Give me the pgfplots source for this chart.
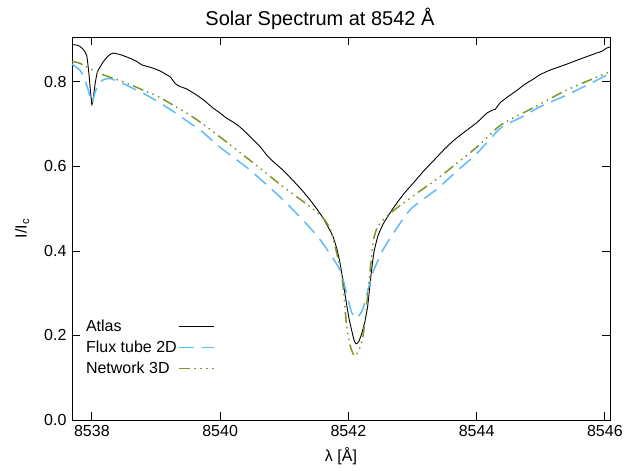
\documentclass[border=0pt]{standalone}
\usepackage{fontspec}
\setmainfont{Liberation Sans}
\usepackage{pgfplots}
\pgfplotsset{compat=1.18}
\definecolor{fluxblue}{RGB}{95,187,255}
\definecolor{netgreen}{RGB}{122,152,42}
\begin{document}
\fontsize{16}{19}\selectfont
\begin{tikzpicture}
\begin{axis}[
  scale only axis,
  width=538pt, height=383pt,
  xmin=8537.69, xmax=8546.08,
  ymin=0, ymax=0.906,
  xtick={8538,8540,8542,8544,8546},
  ytick={0,0.2,0.4,0.6,0.8},
  minor tick num=0,
  tick align=inside,
  major tick length=8pt,
  tick style={black, line width=0.8pt},
  axis line style={black, line width=0.8pt},
  /pgf/number format/assume math mode=true,
  xticklabel style={/pgf/number format/1000 sep={}, font=\fontsize{16}{19}\selectfont},
  yticklabel style={/pgf/number format/fixed, /pgf/number format/fixed zerofill, /pgf/number format/precision=1, font=\fontsize{16}{19}\selectfont},
  scaled ticks=false,
  title={Solar Spectrum at 8542 Å},
  title style={font=\fontsize{20}{24}\selectfont, yshift=-4pt, xshift=-21pt},
  xlabel={λ [Å]},
  xlabel style={font=\fontsize{16}{19}\selectfont, yshift=0pt},
  ylabel={I/I\textsubscript{c}},
  ylabel style={font=\fontsize{16}{19}\selectfont, yshift=4pt},
  legend plot pos=right,
  legend cell align=left,
  legend image code/.code={\draw[#1] (0pt,0pt) -- (35pt,0pt);},
  legend style={at={(0.022,0.268)}, anchor=north west, draw=none, fill=none,
    font=\fontsize{16}{19}\selectfont, inner sep=0pt, row sep=3pt,
    /tikz/every even column/.append style={column sep=3pt}},
]
\addplot[black, line width=0.9pt, smooth, tension=0.3] coordinates {
(8537.69,0.888) (8537.76,0.887) (8537.81,0.884) (8537.87,0.876) (8537.92,0.862)
(8537.95,0.825) (8537.98,0.775) (8538.00,0.746) (8538.02,0.760) (8538.05,0.795)
(8538.08,0.820) (8538.10,0.828) (8538.14,0.838) (8538.18,0.848) (8538.26,0.862)
(8538.33,0.868) (8538.45,0.864) (8538.59,0.856) (8538.70,0.848) (8538.78,0.840)
(8538.92,0.834) (8539.06,0.826) (8539.15,0.818) (8539.22,0.812) (8539.30,0.796)
(8539.37,0.789) (8539.48,0.783) (8539.63,0.769) (8539.75,0.756) (8539.89,0.738)
(8540.00,0.726) (8540.10,0.714) (8540.20,0.705) (8540.31,0.693) (8540.45,0.673)
(8540.62,0.647) (8540.73,0.626) (8540.83,0.611) (8540.98,0.591) (8541.14,0.566)
(8541.28,0.543) (8541.40,0.521) (8541.50,0.501) (8541.61,0.477) (8541.70,0.452)
(8541.76,0.434) (8541.82,0.405) (8541.87,0.371) (8541.92,0.325) (8541.97,0.276)
(8542.01,0.240) (8542.05,0.213) (8542.09,0.188) (8542.12,0.180) (8542.16,0.185)
(8542.21,0.205) (8542.26,0.235) (8542.30,0.268) (8542.33,0.310) (8542.36,0.352)
(8542.40,0.398) (8542.46,0.435) (8542.54,0.463) (8542.65,0.490) (8542.75,0.512)
(8542.88,0.538) (8543.01,0.560) (8543.18,0.590) (8543.35,0.617) (8543.50,0.641)
(8543.64,0.661) (8543.79,0.679) (8544.00,0.703) (8544.16,0.726) (8544.25,0.733)
(8544.29,0.735) (8544.37,0.751) (8544.50,0.766) (8544.63,0.780) (8544.75,0.794)
(8544.88,0.806) (8544.99,0.817) (8545.15,0.828) (8545.41,0.842) (8545.60,0.853)
(8545.87,0.868) (8545.95,0.872) (8546.03,0.880) (8546.08,0.882)
};
\addlegendentry{Atlas}
\addplot[fluxblue, line width=1.5pt, dash pattern=on 15pt off 8pt, smooth, tension=0.4] coordinates {
(8537.69,0.842) (8537.81,0.828) (8537.88,0.810) (8537.94,0.782) (8538.00,0.750)
(8538.04,0.770) (8538.10,0.795) (8538.18,0.805) (8538.28,0.808) (8538.40,0.801)
(8538.54,0.792) (8538.70,0.780) (8538.85,0.769) (8539.06,0.750) (8539.30,0.727)
(8539.53,0.702) (8539.69,0.686) (8540.00,0.645) (8540.46,0.592) (8540.98,0.521)
(8541.40,0.455) (8541.60,0.418) (8541.87,0.355) (8541.97,0.300) (8542.05,0.255)
(8542.12,0.240) (8542.18,0.250) (8542.23,0.264) (8542.30,0.305) (8542.39,0.352)
(8542.50,0.390) (8542.60,0.418) (8542.96,0.497) (8543.38,0.546) (8543.70,0.590)
(8544.00,0.630) (8544.37,0.690) (8544.68,0.715) (8544.99,0.741) (8545.41,0.769)
(8545.80,0.798) (8546.08,0.820)
};
\addlegendentry{Flux tube 2D}
\addplot[netgreen, line width=1.5pt, dash pattern=on 11pt off 4pt on 1.5pt off 4.5pt on 1.5pt off 4.5pt on 1.5pt off 4.5pt, smooth, tension=0.4] coordinates {
(8537.69,0.848) (8537.81,0.844) (8538.12,0.820) (8538.54,0.797) (8538.85,0.777)
(8539.06,0.763) (8539.66,0.708) (8540.46,0.615) (8540.98,0.552) (8541.40,0.505)
(8541.61,0.477) (8541.72,0.450) (8541.79,0.412) (8541.85,0.375) (8541.90,0.339)
(8541.94,0.280) (8541.97,0.225) (8542.02,0.180) (8542.07,0.158) (8542.10,0.152)
(8542.15,0.160) (8542.20,0.180) (8542.23,0.200) (8542.27,0.250) (8542.31,0.308)
(8542.35,0.370) (8542.39,0.425) (8542.45,0.455) (8542.54,0.473) (8542.70,0.495)
(8542.86,0.513) (8543.10,0.540) (8543.38,0.570) (8544.00,0.645) (8544.37,0.697)
(8544.94,0.743) (8545.41,0.781) (8546.08,0.824)
};
\addlegendentry{Network 3D}
\end{axis}
\path[use as bounding box] (-72pt,-48pt) rectangle (566pt,420pt);
\end{tikzpicture}
\end{document}
